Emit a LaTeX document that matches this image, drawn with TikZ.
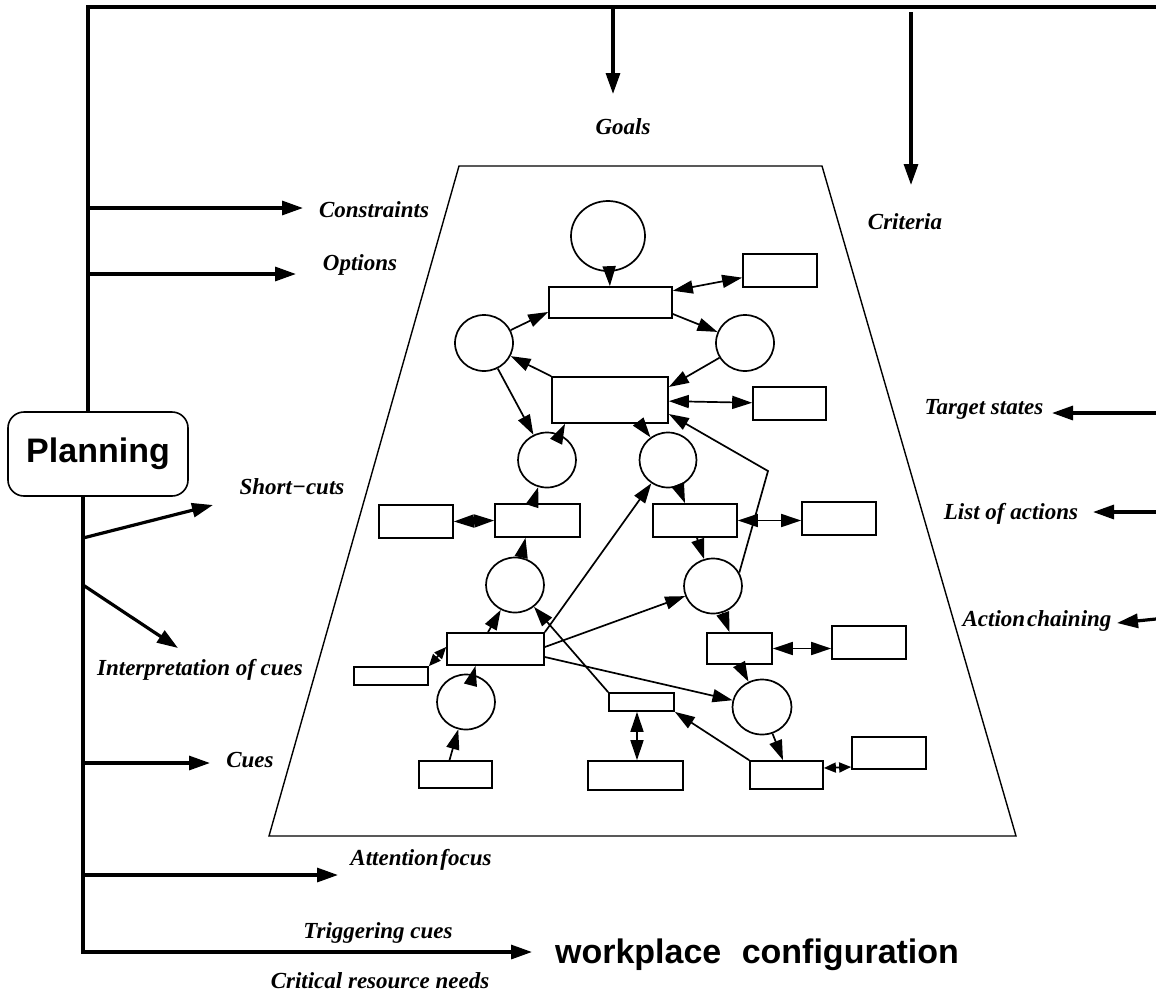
\documentclass[tikz,border=0pt]{standalone}
\usepackage{fontspec}
\setmainfont{Liberation Serif}
\newfontfamily\headfont{Liberation Sans}
\usetikzlibrary{arrows.meta,shapes.geometric}

\begin{document}
\begin{tikzpicture}[x=1pt,y=-1pt,
  label/.style={font=\fontsize{23}{27}\selectfont\bfseries\itshape, inner sep=0pt},
  tightlabel/.style={label, execute at begin node={\spaceskip=0.08em\relax}},
  head/.style={font=\headfont\fontsize{34}{38}\selectfont\bfseries, inner sep=0pt},
  box/.style={draw, line width=1.7pt, rectangle, inner sep=0pt},
  place/.style={draw, line width=1.7pt, ellipse, inner sep=0pt},
  flow/.style={line width=1.7pt, >={Triangle[length=20pt,width=13pt]}},
  nudge/.style={line width=1.7pt, >={Triangle[length=12pt,width=10pt]}},
  feed/.style={line width=3.2pt, line join=miter, >={Triangle[length=21pt,width=14pt]}},
  frame/.style={line width=1.4pt},
]
\useasboundingbox (0,0) rectangle (1156,996);

% ---------- planning block and its outer feedback lines ----------
\node[draw, line width=1.6pt, rounded corners=16pt, minimum width=180, minimum height=84,
      font=\headfont\fontsize{34}{38}\selectfont\bfseries] (plan) at (98,454) {Planning};

\coordinate (corner) at (88,7);
\coordinate (topend) at (1156,7);
\coordinate (bottom) at (83,952);

\draw[feed] (plan.north -| corner) -- (corner) -- (topend);

% labels
\node[label] (goals)  at (623,127) {Goals};
\node[label] (crit)   at (905,222) {Criteria};
\node[label] (cons)   at (374,210) {Constraints};
\node[label] (opt)    at (360,265) {Options};
\node[label] (short)  at (292,487) {Short−cuts};
\node[label] (interp) at (200,670) {Interpretation of cues};
\node[label] (cues)   at (250,760) {Cues};
\node[tightlabel] (attn) at (421,860) {Attention focus};
\node[label] (trig)   at (378,933) {Triggering cues};
\node[label] (crn)    at (380,981) {Critical resource needs};
\node[head]  (wc)     at (757,955) {\spaceskip=0.6em\relax workplace configuration};
\node[label] (tgt)    at (984,409) {Target states};
\node[label] (loa)    at (1011,514) {List of actions};
\node[tightlabel] (ach) at (1037,621) {Action chaining};

% arrows leaving the upper trunk
\coordinate (goalsin) at (613,94);
\coordinate (critin)  at (911,185);
\coordinate (critout) at (911,12);
\draw[feed,->] (goalsin |- corner) -- (goalsin);
\draw[feed,->] (critout) -- (critin);
\coordinate (consin) at (303,208);
\coordinate (optin)  at (296,274);
\draw[feed,->] (consin -| corner) -- (consin);
\draw[feed,->] (optin -| corner) -- (optin);

% arrows coming in from the right
\coordinate (tgtin)  at (1052,413);
\coordinate (loain)  at (1093,512);
\coordinate (achin)  at (1117,623);
\coordinate (tgtout) at (1156,413);
\coordinate (loaout) at (1156,512);
\coordinate (achout) at (1156,619);
\draw[feed,->] (tgtout) -- (tgtin);
\draw[feed,->] (loaout) -- (loain);
\draw[feed,->] (achout) -- (achin);

% lower trunk
\coordinate (wcin) at (532,952);
\draw[feed,->] (plan.south -| bottom) -- (bottom) -- (wcin);
\coordinate (shortout) at (83,538);
\coordinate (shortin)  at (213,505);
\coordinate (interpout) at (83,585);
\coordinate (interpin)  at (178,648);
\coordinate (cuesin) at (210,763);
\coordinate (attnin) at (338,875);
\draw[feed,->] (shortout) -- (shortin);
\draw[feed,->] (interpout) -- (interpin);
\draw[feed,->] (cuesin -| bottom) -- (cuesin);
\draw[feed,->] (attnin -| bottom) -- (attnin);

% ---------- trapezoid frame ----------
\draw[frame] (459,166) -- (822,166) -- (1016,836) -- (269,836) -- cycle;

% ---------- network: places (ellipses) ----------
\node[place, minimum width=74, minimum height=70] (tc) at (608,236) {};
\node[place, minimum width=58, minimum height=56] (lc) at (484,343) {};
\node[place, minimum width=58, minimum height=56] (rc) at (745,343) {};
\node[place, minimum width=58, minimum height=55] (c3) at (547,460) {};
\node[place, minimum width=57, minimum height=55] (c4) at (668,460) {};
\node[place, minimum width=58, minimum height=55] (c5) at (515,585) {};
\node[place, minimum width=58, minimum height=55] (c6) at (713,586) {};
\node[place, minimum width=59, minimum height=55] (c7) at (762,707) {};
\node[place, minimum width=58, minimum height=55] (c8) at (466,702) {};

% ---------- network: boxes ----------
\node[box, minimum width=123, minimum height=31] (tr) at (610.5,302.5) {};
\node[box, minimum width=74,  minimum height=33] (r1) at (780,270.5) {};
\node[box, minimum width=116, minimum height=46] (mr) at (610,400) {};
\node[box, minimum width=73,  minimum height=33] (r2) at (789.5,403.5) {};
\node[box, minimum width=74,  minimum height=33] (a)  at (416,521.5) {};
\node[box, minimum width=85,  minimum height=33] (b)  at (537.5,520.5) {};
\node[box, minimum width=84,  minimum height=33] (c)  at (695,520.5) {};
\node[box, minimum width=74,  minimum height=33] (d)  at (839,518.5) {};
\node[box, minimum width=97,  minimum height=32] (e)  at (495.5,649) {};
\node[box, minimum width=74,  minimum height=18] (f)  at (391,676) {};
\node[box, minimum width=73,  minimum height=27] (g)  at (455.5,774.5) {};
\node[box, minimum width=65,  minimum height=18] (h)  at (641.5,702) {};
\node[box, minimum width=95,  minimum height=29] (i)  at (635.5,775.5) {};
\node[box, minimum width=65,  minimum height=31] (j)  at (739.5,648.5) {};
\node[box, minimum width=74,  minimum height=33] (k)  at (869,642.5) {};
\node[box, minimum width=73,  minimum height=28] (l)  at (786.5,775) {};
\node[box, minimum width=74,  minimum height=32] (m)  at (889,753) {};

% ---------- network: connectors ----------
\draw[flow,->]  (tc) -- (tr);
\draw[flow,<->] (tr) -- (r1);
\draw[flow,->]  (lc) -- ([yshift=-9.5pt]tr.west);
\draw[flow,->]  ([yshift=-11.5pt]tr.east) -- (rc);
\draw[flow,->]  (rc) -- ([yshift=13pt]mr.east);
\draw[flow,->]  (mr.north west) -- (lc);
\draw[flow,<->] (mr) -- (r2);
\draw[flow,->]  (lc) -- (c3);
\draw[flow,->]  (c3) -- ([xshift=-45pt]mr.south);
\draw[flow,->]  ([xshift=30pt]mr.south) -- (c4);
\draw[flow,->]  ([xshift=-4.5pt]b.north) -- (c3);
\draw[flow,<->] (a.east) -- (b.west);
\draw[flow,->]  (c4) -- ([xshift=-10pt]c.north);
\draw[flow,<->] (c.east) -- (d.west |- c.east);
\draw[flow,->]  (c5) -- ([xshift=-12pt]b.south);
\draw[flow,->]  ([xshift=2pt]c.south) -- (c6);
\coordinate (kink) at (768,471);
\draw[flow,->]  (c6.27) -- (kink) -- ([yshift=-14pt]mr.east);
\draw[flow,->]  ([xshift=-7.5pt]e.north) -- (c5);
\draw[flow,->]  (e.north east) -- (c4);
\draw[flow,->]  ([yshift=2pt]e.east) -- (c6);
\draw[flow,->]  ([yshift=-8pt]e.east) -- (c7);
\draw[nudge,<->] (f.north east) -- ([yshift=2pt]e.west);
\draw[flow,->]  (c8) -- ([xshift=-20pt]e.south);
\draw[flow,->]  ([xshift=-6pt]g.north) -- (c8);
\draw[flow,->]  (h.north west) -- (c5);
\draw[flow,<->] ([xshift=-4.5pt]h.south) -- ([xshift=1.5pt]i.north);
\draw[flow,->]  (l.north west) -- (h.south east);
\draw[flow,->]  (c7) -- ([xshift=-3.5pt]l.north);
\draw[nudge,<->] ([yshift=7pt]l.east) -- ([yshift=-14pt]m.west);
\draw[flow,->]  (c6) -- ([xshift=-10pt]j.north);
\draw[flow,<->] (j.east) -- (k.west |- j.east);
\draw[flow,->]  (j.south) -- (c7);
\end{tikzpicture}
\end{document}
